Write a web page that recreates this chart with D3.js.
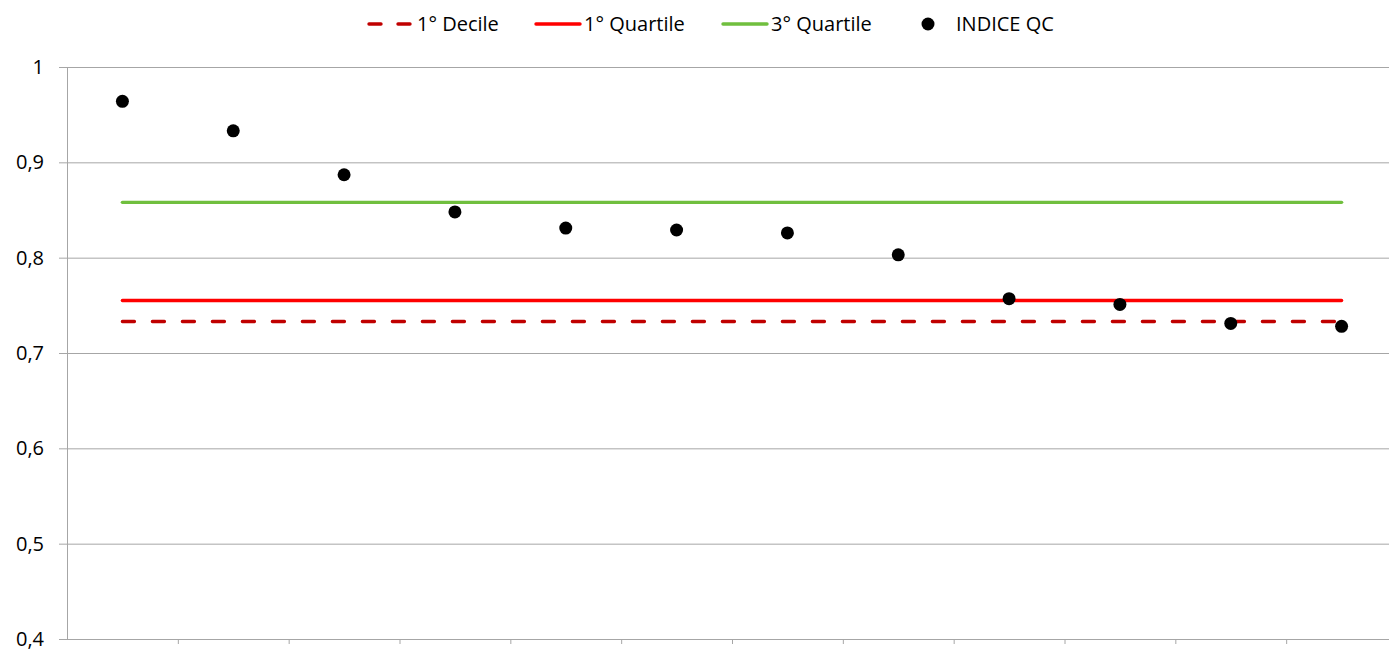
<!DOCTYPE html>
<html><head><meta charset="utf-8">
<script src="https://cdn.jsdelivr.net/npm/d3@7"></script>
<style>body{margin:0;background:#fff;overflow:hidden}svg{display:block;font-family:"Open Sans",sans-serif}</style>
</head><body><svg id="c" width="1389" height="649"></svg>
<script>
const categories = ["1","2","3","4","5","6","7","8","9","10","11","12"];
const indiceQC = [0.964,0.933,0.887,0.848,0.831,0.829,0.826,0.803,0.757,0.751,0.731,0.728];
const decile1 = [0.733,0.733,0.733,0.733,0.733,0.733,0.733,0.733,0.733,0.733,0.733,0.733];
const quartile1 = [0.755,0.755,0.755,0.755,0.755,0.755,0.755,0.755,0.755,0.755,0.755,0.755];
const quartile3 = [0.858,0.858,0.858,0.858,0.858,0.858,0.858,0.858,0.858,0.858,0.858,0.858];
const yTicks = [0.4,0.5,0.6,0.7,0.8,0.9,1];
const yTickLabels = ["0,4","0,5","0,6","0,7","0,8","0,9","1"];

const svg = d3.select("#c");
const pL = 67, pR = 1397, pT = 67, pB = 639;
const x = d3.scaleBand().domain(categories).range([pL, pR]);
const y = d3.scaleLinear().domain([0.4,1]).range([pB, pT]);

// gridlines
const gy = svg.append("g").attr("transform",`translate(${pL},0)`)
  .call(d3.axisLeft(y).tickValues(yTicks).tickSize(-(pR-pL)).tickFormat(""));
gy.select(".domain").remove();
gy.selectAll("line").attr("stroke","#a6a6a6").attr("stroke-width",1);
// left axis with labels
const gy2 = svg.append("g").attr("transform",`translate(${pL},0)`)
  .call(d3.axisLeft(y).tickValues(yTicks).tickSize(8).tickPadding(15).tickFormat((d,i)=>yTickLabels[i]));
gy2.select(".domain").attr("stroke","#a6a6a6").attr("d",`M0.5,${pT}V${pB}`);
gy2.selectAll("line").attr("stroke","#a6a6a6");
gy2.selectAll("text").attr("font-size",20).attr("fill","#000").attr("font-family","'Open Sans',sans-serif");

// x axis
const gx = svg.append("g").attr("transform",`translate(0,${pB})`)
  .call(d3.axisBottom(x).tickSize(0).tickFormat(""));
gx.select(".domain").attr("stroke","#a6a6a6").attr("d",`M${pL},0.5H${pR}`);
const bounds = categories.map((c)=>x(c)+x.bandwidth());
svg.append("g").selectAll("line").data(bounds).join("line")
  .attr("x1",d=>d+0.5).attr("x2",d=>d+0.5).attr("y1",pB).attr("y2",pB+5).attr("stroke","#a6a6a6");

const cx = c => x(c) + x.bandwidth()/2;
const line = d3.line().x((d,i)=>cx(categories[i])).y(d=>y(d));
svg.append("path").datum(quartile3).attr("d",line).attr("fill","none").attr("stroke","#70bf3e").attr("stroke-width",3.4).attr("stroke-linecap","round");
svg.append("path").datum(quartile1).attr("d",line).attr("fill","none").attr("stroke","#ff0000").attr("stroke-width",3.4).attr("stroke-linecap","round");
svg.append("path").datum(decile1).attr("d",line).attr("fill","none").attr("stroke","#c00000").attr("stroke-width",3.4).attr("stroke-dasharray","12,18").attr("stroke-linecap","round");

svg.append("g").selectAll("circle").data(indiceQC).join("circle")
  .attr("cx",(d,i)=>cx(categories[i])).attr("cy",d=>y(d)).attr("r",6.5).attr("fill","#000");

// legend
const lg = svg.append("g").attr("font-size",20).attr("fill","#000");
const ly = 24;
lg.append("line").attr("x1",369).attr("x2",410).attr("y1",ly).attr("y2",ly).attr("stroke","#c00000").attr("stroke-width",3.4).attr("stroke-dasharray","12,17").attr("stroke-linecap","round");
lg.append("text").attr("x",417).attr("y",ly).attr("dy","0.36em").text("1° Decile");
lg.append("line").attr("x1",536).attr("x2",580).attr("y1",ly).attr("y2",ly).attr("stroke","#ff0000").attr("stroke-width",3.4).attr("stroke-linecap","round");
lg.append("text").attr("x",584).attr("y",ly).attr("dy","0.36em").text("1° Quartile");
lg.append("line").attr("x1",723).attr("x2",767).attr("y1",ly).attr("y2",ly).attr("stroke","#70bf3e").attr("stroke-width",3.4).attr("stroke-linecap","round");
lg.append("text").attr("x",771).attr("y",ly).attr("dy","0.36em").text("3° Quartile");
lg.append("circle").attr("cx",928).attr("cy",ly).attr("r",6.5).attr("fill","#000");
lg.append("text").attr("x",956).attr("y",ly).attr("dy","0.36em").text("INDICE QC");
</script></body></html>
